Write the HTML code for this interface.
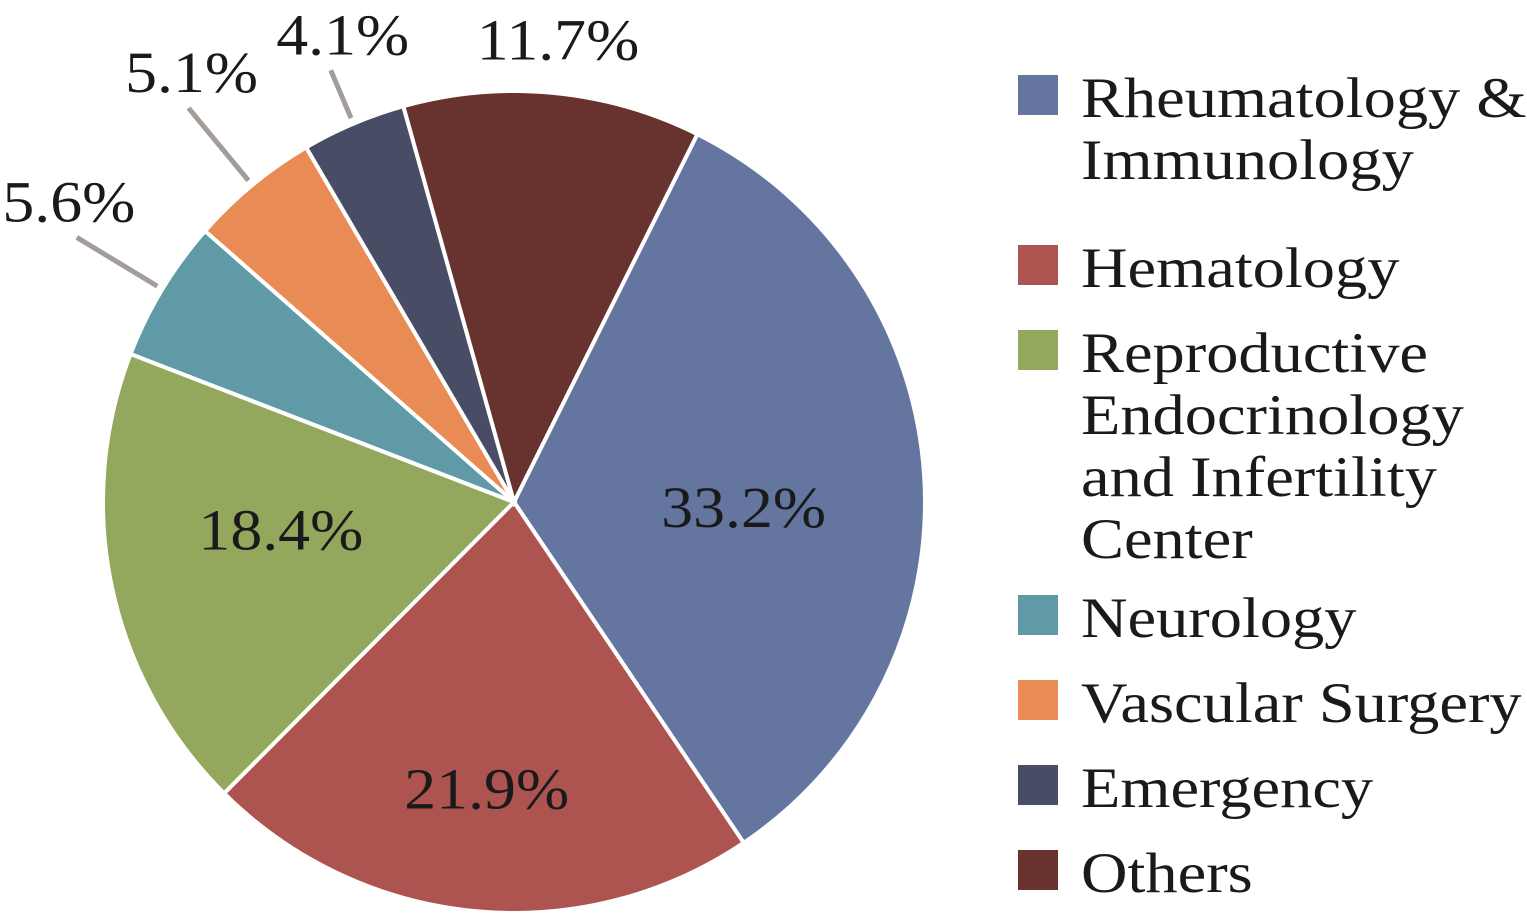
<!DOCTYPE html>
<html><head><meta charset="utf-8"><style>
body{margin:0;background:#fff;}
svg{display:block;font-family:"Liberation Serif",serif;}
</style></head><body>
<svg id="chart" width="1527" height="915" viewBox="0 0 1527 915">
<g id="slices"></g><g id="labels"></g><g id="legend"></g>
</svg>
<script>
const categories=["Rheumatology & Immunology","Hematology","Reproductive Endocrinology and Infertility Center","Neurology","Vascular Surgery","Emergency","Others"];
const values=[33.2,21.9,18.4,5.6,5.1,4.1,11.7];
const labels=["33.2%","21.9%","18.4%","5.6%","5.1%","4.1%","11.7%"];
const colors=["#64769f","#ae5450","#93a75d","#5f9aa6","#e98b55","#484d65","#68332f"];
const legendLines=[["Rheumatology &","Immunology"],["Hematology"],["Reproductive","Endocrinology","and Infertility","Center"],["Neurology"],["Vascular Surgery"],["Emergency"],["Others"]];
const NS="http://www.w3.org/2000/svg";
const cx=514,cy=502,r=411,start=26.5;
const labelRadiusFrac=[0.56,0.7,0.58,0,0,0,1.13];
const labelDy=[20,0,-22,0,0,0,0];
const leaderLen=[0,0,0,100,100,58,0];
const leaderTextDx=[0,0,0,-8,3,12,0];
const total=values.reduce((a,b)=>a+b,0);
function pt(deg,rad){const a=deg*Math.PI/180;return [cx+rad*Math.sin(a),cy-rad*Math.cos(a)];}
function stretch(t,f){const L=t.getComputedTextLength();t.setAttribute('textLength',L*f);t.setAttribute('lengthAdjust','spacingAndGlyphs');}
const sl=document.getElementById('slices'),lb=document.getElementById('labels'),lg=document.getElementById('legend');
let ang=start;
values.forEach((v,i)=>{
  const sweep=v/total*360,a0=ang,a1=ang+sweep;ang=a1;
  const p0=pt(a0,r),p1=pt(a1,r);
  const p=document.createElementNS(NS,'path');
  p.setAttribute('d',`M${cx},${cy}L${p0[0]},${p0[1]}A${r},${r} 0 ${sweep>180?1:0} 1 ${p1[0]},${p1[1]}Z`);
  p.setAttribute('fill',colors[i]);p.setAttribute('stroke','#fff');p.setAttribute('stroke-width','4');
  
  
  sl.appendChild(p);
  const mid=(a0+a1)/2;
  let tx,ty;
  if(leaderLen[i]>0){
    const l0=pt(mid,r+6),l1=pt(mid,r+leaderLen[i]);
    const ln=document.createElementNS(NS,'line');
    ln.setAttribute('x1',l0[0]);ln.setAttribute('y1',l0[1]);ln.setAttribute('x2',l1[0]);ln.setAttribute('y2',l1[1]);
    ln.setAttribute('stroke','#a39c99');ln.setAttribute('stroke-width','5');
    
    
    lb.appendChild(ln);
    tx=l1[0]+leaderTextDx[i];ty=l1[1]-36;
  } else {const lp=pt(mid,r*labelRadiusFrac[i]);tx=lp[0];ty=lp[1]+labelDy[i];}
  const t=document.createElementNS(NS,'text');
  t.setAttribute('x',tx);t.setAttribute('y',ty+20);t.setAttribute('text-anchor','middle');
  t.setAttribute('font-size','58');t.setAttribute('fill','#1a1a1a');
  t.textContent=labels[i];
  
  
  lb.appendChild(t);
  stretch(t,1.1);
});
const legendY=[95,265,350,615,700,785,870];
legendLines.forEach((lines,i)=>{
  const g=document.createElementNS(NS,'g');
  
  
  const rc=document.createElementNS(NS,'rect');
  rc.setAttribute('x',1018);rc.setAttribute('y',legendY[i]-20);rc.setAttribute('width',40);rc.setAttribute('height',40);rc.setAttribute('fill',colors[i]);
  
  
  g.appendChild(rc);
  lg.appendChild(g);
  lines.forEach((s,j)=>{
    const t=document.createElementNS(NS,'text');
    t.setAttribute('x',1081);t.setAttribute('y',legendY[i]+22+j*62);t.setAttribute('font-size','57');t.setAttribute('fill','#1a1a1a');
    t.textContent=s;
    
    
    g.appendChild(t);
    stretch(t,1.13);
  });
});
</script>
</body></html>
